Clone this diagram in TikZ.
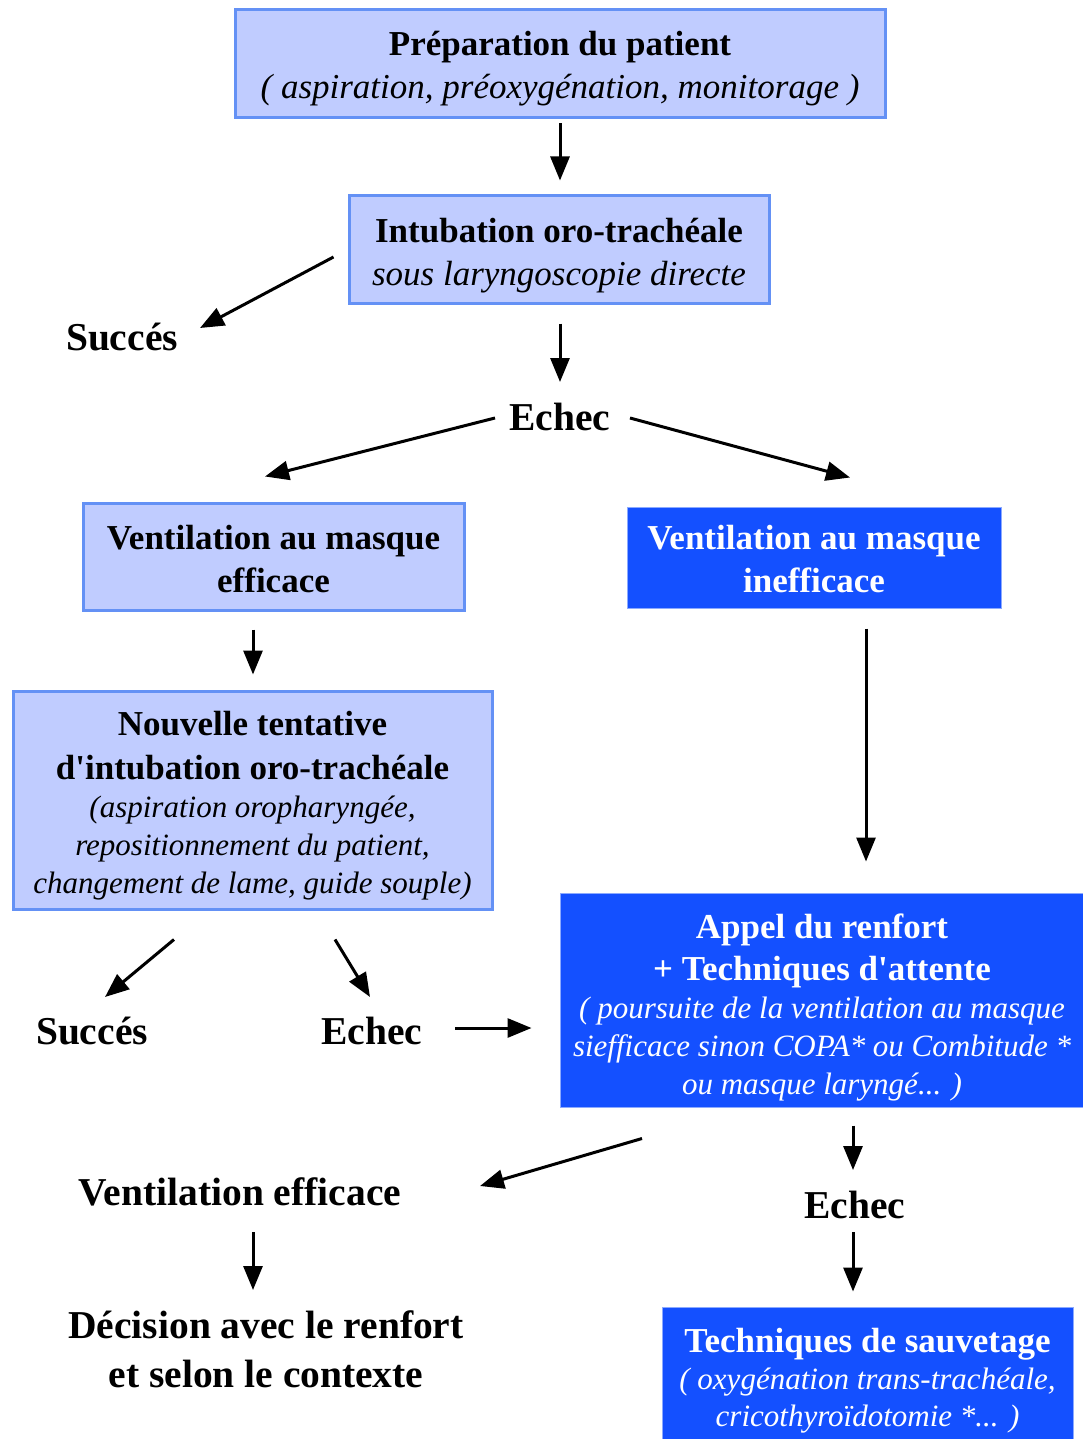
\documentclass[tikz,border=0pt]{standalone}
\usepackage{fontspec}
\setmainfont{Liberation Serif}
\usetikzlibrary{arrows.meta,calc}
\definecolor{lightfill}{RGB}{192,204,255}
\definecolor{lightborder}{RGB}{100,145,245}
\definecolor{darkfill}{RGB}{20,80,255}
\definecolor{darkborder}{RGB}{140,170,255}
\newcommand{\smallI}{\fontsize{31}{38}\selectfont\itshape}
\newcommand{\apos}{\textquotesingle}
\begin{document}
\begin{tikzpicture}[x=1pt,y=-1pt,
  lightbox/.style={draw=lightborder, line width=3pt, fill=lightfill, inner sep=0pt},
  darkbox/.style={draw=darkborder, line width=1pt, fill=darkfill, inner sep=0pt},
  darktext/.style={inner sep=0pt, align=center, text=white},
  lighttext/.style={inner sep=0pt, align=center, text=black},
  lbl/.style={font=\fontsize{39.5}{49}\selectfont\bfseries, inner sep=0pt, align=center},
  arr/.style={line width=3pt, -{Triangle[length=24pt,width=19pt]}}]
\fill[white] (0,0) rectangle (1082,1439);
\useasboundingbox (0,0) rectangle (1082,1439);

% boxes
\node[lightbox, minimum width=650pt, minimum height=108pt] (prep) at (560,64) {};
\node[lighttext, font=\fontsize{35}{43}\selectfont] (prepT) at (560,68.5)
  {\textbf{Préparation du patient}\\\textit{( aspiration, préoxygénation, monitorage )}};

\node[lightbox, minimum width=420pt, minimum height=107pt] (intub) at (559,249.5) {};
\node[lighttext, font=\fontsize{35}{43}\selectfont] (intubT) at (559,255.5)
  {\textbf{Intubation oro-trachéale}\\\textit{sous laryngoscopie directe}};

\node[lightbox, minimum width=381pt, minimum height=107pt] (veff) at (273.5,556.5) {};
\node[lighttext, font=\fontsize{35}{43}\selectfont\bfseries] (veffT) at (273.5,559)
  {Ventilation au masque\\efficace};

\node[darkbox, minimum width=374pt, minimum height=101pt] (vinef) at (814,557.5) {};
\node[darktext, font=\fontsize{35}{43}\selectfont\bfseries] (vinefT) at (814,559)
  {Ventilation au masque\\inefficace};

\node[lightbox, minimum width=479pt, minimum height=218pt] (nouv) at (252.5,800) {};
\node[lighttext, font=\fontsize{35}{38}\selectfont] (nouvT) at (252.5,805.5)
  {\textbf{Nouvelle tentative}\\[6pt]\textbf{d\apos intubation oro-trachéale}\\
   {\smallI (aspiration oropharyngée,}\\{\smallI repositionnement du patient,}\\{\smallI changement de lame, guide souple)}};

\node[darkbox, minimum width=524pt, minimum height=214pt] (appel) at (822,1000) {};
\node[darktext, font=\fontsize{35}{38}\selectfont] (appelT) at (822,1007.5)
  {\textbf{Appel du renfort}\\[4pt]\textbf{+ Techniques d\apos attente}\\
   {\smallI ( poursuite de la ventilation au masque}\\{\smallI siefficace sinon COPA* ou Combitude *}\\{\smallI ou masque laryngé... )}};

\node[darkbox, minimum width=411pt, minimum height=143pt] (sauv) at (867.5,1378.5) {};
\node[darktext, font=\fontsize{35}{37}\selectfont] (sauvT) at (867.5,1380.5)
  {\textbf{Techniques de sauvetage}\\{\smallI ( oxygénation trans-trachéale,}\\{\smallI cricothyroïdotomie *... )}};

% labels
\node[lbl] (succ1) at (122,337) {Succés};
\node[lbl] (echec1) at (560,417) {Echec};
\node[lbl] (succ2) at (92,1031) {Succés};
\node[lbl] (echec2) at (372,1031) {Echec};
\node[lbl] (venteff) at (240,1192) {Ventilation efficace};
\node[lbl] (echec3) at (855,1205) {Echec};
\node[lbl] (decis) at (266,1349) {Décision avec le renfort\\et selon le contexte};

% arrows
\draw[arr] ($(prep.south)+(0,4)$) -- ($(intub.north)+(1,-14)$);
\draw[arr] ($(intub.west)+(-14,7.5)$) -- ($(succ1)+(78,-9)$);
\draw[arr] ($(intub.south)+(1,19)$) -- ($(echec1)+(0,-35)$);
\draw[arr] ($(echec1)+(-65,1)$) -- ($(veff.north)+(-8.5,-25)$);
\draw[arr] ($(echec1)+(70,1)$) -- ($(vinef.north)+(36,-29)$);
\draw[arr] ($(veff.south)+(-20.5,18)$) -- ($(nouv.north)+(0.5,-15)$);
\draw[arr] ($(vinef.south)+(52,20)$) -- ($(appel.north)+(44,-31)$);
\draw[arr] ($(nouv.south)+(-78.5,29)$) -- ($(succ2)+(13,-34)$);
\draw[arr] ($(nouv.south)+(82.5,29)$) -- ($(echec2)+(-2,-34)$);
\draw[arr] ($(echec2)+(83,-3)$) -- ($(appel.west)+(-28,28)$);
\draw[arr] ($(appel.south)+(-180,31)$) -- ($(venteff)+(240,-6)$);
\draw[arr] ($(appel.south)+(31,18)$) -- ($(echec3)+(-2,-35)$);
\draw[arr] ($(venteff)+(13,40)$) -- ($(decis)+(-13,-59)$);
\draw[arr] ($(echec3)+(-2,27)$) -- ($(sauv.north)+(-14.5,-15)$);
\end{tikzpicture}
\end{document}
